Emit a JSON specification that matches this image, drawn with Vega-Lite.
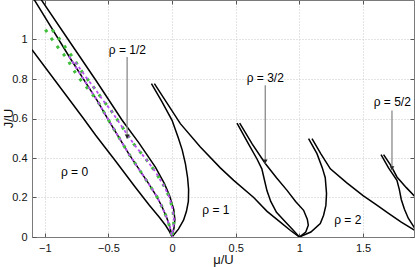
{
  "$schema": "https://vega.github.io/schema/vega-lite/v6.json",
  "width": 382,
  "height": 237,
  "autosize": {"type": "none"},
  "padding": {"left": 32, "top": 0, "right": 1, "bottom": 30},
  "background": "white",
  "config": {
    "view": {"stroke": "#7a7a7a", "strokeWidth": 1},
    "font": "Liberation Sans"
  },
  "datasets": {
    "curves": [
      {"kind":"k","curve":"c0","i":0,"mu":-1.1,"J":0.948},
      {"kind":"k","curve":"c0","i":1,"mu":-0.9,"J":0.776},
      {"kind":"k","curve":"c0","i":2,"mu":-0.7,"J":0.604},
      {"kind":"k","curve":"c0","i":3,"mu":-0.6,"J":0.515},
      {"kind":"k","curve":"c0","i":4,"mu":-0.45,"J":0.39},
      {"kind":"k","curve":"c0","i":5,"mu":-0.29,"J":0.253},
      {"kind":"k","curve":"c0","i":6,"mu":-0.18,"J":0.162},
      {"kind":"k","curve":"c0","i":7,"mu":-0.1,"J":0.1},
      {"kind":"k","curve":"c0","i":8,"mu":-0.05,"J":0.058},
      {"kind":"k","curve":"c0","i":9,"mu":-0.02,"J":0.027},
      {"kind":"k","curve":"c0","i":10,"mu":0,"J":0},

      {"kind":"k","curve":"c1","i":0,"mu":-1.1,"J":1.22},
      {"kind":"k","curve":"c1","i":1,"mu":-0.8,"J":0.905},
      {"kind":"k","curve":"c1","i":2,"mu":-0.589,"J":0.692},
      {"kind":"k","curve":"c1","i":3,"mu":-0.498,"J":0.591},
      {"kind":"k","curve":"c1","i":4,"mu":-0.341,"J":0.422},
      {"kind":"k","curve":"c1","i":5,"mu":-0.184,"J":0.27},
      {"kind":"k","curve":"c1","i":6,"mu":-0.12,"J":0.205},
      {"kind":"k","curve":"c1","i":7,"mu":-0.078,"J":0.152},
      {"kind":"k","curve":"c1","i":8,"mu":-0.04,"J":0.095},
      {"kind":"k","curve":"c1","i":9,"mu":-0.015,"J":0.045},
      {"kind":"k","curve":"c1","i":10,"mu":0,"J":0},

      {"kind":"k","curve":"c2","i":0,"mu":-1.05,"J":1.223},
      {"kind":"k","curve":"c2","i":1,"mu":-0.8,"J":0.985},
      {"kind":"k","curve":"c2","i":2,"mu":-0.6,"J":0.795},
      {"kind":"k","curve":"c2","i":3,"mu":-0.392,"J":0.591},
      {"kind":"k","curve":"c2","i":4,"mu":-0.262,"J":0.478},
      {"kind":"k","curve":"c2","i":5,"mu":-0.131,"J":0.354},
      {"kind":"k","curve":"c2","i":6,"mu":-0.06,"J":0.27},
      {"kind":"k","curve":"c2","i":7,"mu":-0.02,"J":0.21},
      {"kind":"k","curve":"c2","i":8,"mu":0.013,"J":0.14},
      {"kind":"k","curve":"c2","i":9,"mu":0.022,"J":0.09},
      {"kind":"k","curve":"c2","i":10,"mu":0.015,"J":0.045},
      {"kind":"k","curve":"c2","i":11,"mu":0,"J":0},

      {"kind":"k","curve":"a1","i":0,"mu":-0.162,"J":0.777},
      {"kind":"k","curve":"a1","i":1,"mu":-0.08,"J":0.685},
      {"kind":"k","curve":"a1","i":2,"mu":0,"J":0.591},
      {"kind":"k","curve":"a1","i":3,"mu":0.05,"J":0.5},
      {"kind":"k","curve":"a1","i":4,"mu":0.08,"J":0.44},
      {"kind":"k","curve":"a1","i":5,"mu":0.105,"J":0.37},
      {"kind":"k","curve":"a1","i":6,"mu":0.122,"J":0.3},
      {"kind":"k","curve":"a1","i":7,"mu":0.13,"J":0.24},
      {"kind":"k","curve":"a1","i":8,"mu":0.128,"J":0.18},
      {"kind":"k","curve":"a1","i":9,"mu":0.113,"J":0.13},
      {"kind":"k","curve":"a1","i":10,"mu":0.09,"J":0.085},
      {"kind":"k","curve":"a1","i":11,"mu":0.05,"J":0.04},
      {"kind":"k","curve":"a1","i":12,"mu":0,"J":0},

      {"kind":"k","curve":"b1","i":0,"mu":-0.139,"J":0.777},
      {"kind":"k","curve":"b1","i":1,"mu":0.065,"J":0.574},
      {"kind":"k","curve":"b1","i":2,"mu":0.222,"J":0.456},
      {"kind":"k","curve":"b1","i":3,"mu":0.379,"J":0.35},
      {"kind":"k","curve":"b1","i":4,"mu":0.484,"J":0.287},
      {"kind":"k","curve":"b1","i":5,"mu":0.641,"J":0.2},
      {"kind":"k","curve":"b1","i":6,"mu":0.746,"J":0.13},
      {"kind":"k","curve":"b1","i":7,"mu":0.85,"J":0.075},
      {"kind":"k","curve":"b1","i":8,"mu":0.93,"J":0.033},
      {"kind":"k","curve":"b1","i":9,"mu":1,"J":0},

      {"kind":"k","curve":"a32","i":0,"mu":0.51,"J":0.577},
      {"kind":"k","curve":"a32","i":1,"mu":0.6,"J":0.472},
      {"kind":"k","curve":"a32","i":2,"mu":0.667,"J":0.395},
      {"kind":"k","curve":"a32","i":3,"mu":0.705,"J":0.345},
      {"kind":"k","curve":"a32","i":4,"mu":0.725,"J":0.29},
      {"kind":"k","curve":"a32","i":5,"mu":0.745,"J":0.235},
      {"kind":"k","curve":"a32","i":6,"mu":0.775,"J":0.18},
      {"kind":"k","curve":"a32","i":7,"mu":0.82,"J":0.125},
      {"kind":"k","curve":"a32","i":8,"mu":0.9,"J":0.07},
      {"kind":"k","curve":"a32","i":9,"mu":0.95,"J":0.035},
      {"kind":"k","curve":"a32","i":10,"mu":1,"J":0},

      {"kind":"k","curve":"b32","i":0,"mu":0.531,"J":0.577},
      {"kind":"k","curve":"b32","i":1,"mu":0.63,"J":0.47},
      {"kind":"k","curve":"b32","i":2,"mu":0.732,"J":0.372},
      {"kind":"k","curve":"b32","i":3,"mu":0.82,"J":0.3},
      {"kind":"k","curve":"b32","i":4,"mu":0.903,"J":0.236},
      {"kind":"k","curve":"b32","i":5,"mu":0.97,"J":0.18},
      {"kind":"k","curve":"b32","i":6,"mu":1.033,"J":0.135},
      {"kind":"k","curve":"b32","i":7,"mu":1.062,"J":0.09},
      {"kind":"k","curve":"b32","i":8,"mu":1.07,"J":0.06},
      {"kind":"k","curve":"b32","i":9,"mu":1.05,"J":0.025},
      {"kind":"k","curve":"b32","i":10,"mu":1,"J":0},

      {"kind":"k","curve":"a2","i":0,"mu":1.072,"J":0.498},
      {"kind":"k","curve":"a2","i":1,"mu":1.138,"J":0.422},
      {"kind":"k","curve":"a2","i":2,"mu":1.18,"J":0.35},
      {"kind":"k","curve":"a2","i":3,"mu":1.203,"J":0.3},
      {"kind":"k","curve":"a2","i":4,"mu":1.213,"J":0.22},
      {"kind":"k","curve":"a2","i":5,"mu":1.208,"J":0.16},
      {"kind":"k","curve":"a2","i":6,"mu":1.19,"J":0.11},
      {"kind":"k","curve":"a2","i":7,"mu":1.164,"J":0.068},
      {"kind":"k","curve":"a2","i":8,"mu":1.09,"J":0.025},
      {"kind":"k","curve":"a2","i":9,"mu":1,"J":0},

      {"kind":"k","curve":"b2","i":0,"mu":1.099,"J":0.498},
      {"kind":"k","curve":"b2","i":1,"mu":1.17,"J":0.42},
      {"kind":"k","curve":"b2","i":2,"mu":1.243,"J":0.345},
      {"kind":"k","curve":"b2","i":3,"mu":1.37,"J":0.275},
      {"kind":"k","curve":"b2","i":4,"mu":1.5,"J":0.21},
      {"kind":"k","curve":"b2","i":5,"mu":1.6,"J":0.165},
      {"kind":"k","curve":"b2","i":6,"mu":1.7,"J":0.12},
      {"kind":"k","curve":"b2","i":7,"mu":1.8,"J":0.075},
      {"kind":"k","curve":"b2","i":8,"mu":1.904,"J":0.034},
      {"kind":"k","curve":"b2","i":9,"mu":2,"J":0},

      {"kind":"k","curve":"a52","i":0,"mu":1.641,"J":0.417},
      {"kind":"k","curve":"a52","i":1,"mu":1.7,"J":0.35},
      {"kind":"k","curve":"a52","i":2,"mu":1.766,"J":0.287},
      {"kind":"k","curve":"a52","i":3,"mu":1.785,"J":0.24},
      {"kind":"k","curve":"a52","i":4,"mu":1.8,"J":0.19},
      {"kind":"k","curve":"a52","i":5,"mu":1.825,"J":0.14},
      {"kind":"k","curve":"a52","i":6,"mu":1.855,"J":0.095},
      {"kind":"k","curve":"a52","i":7,"mu":1.91,"J":0.04},
      {"kind":"k","curve":"a52","i":8,"mu":2,"J":0},

      {"kind":"k","curve":"b52","i":0,"mu":1.661,"J":0.417},
      {"kind":"k","curve":"b52","i":1,"mu":1.72,"J":0.36},
      {"kind":"k","curve":"b52","i":2,"mu":1.766,"J":0.304},
      {"kind":"k","curve":"b52","i":3,"mu":1.84,"J":0.25},
      {"kind":"k","curve":"b52","i":4,"mu":1.91,"J":0.203},
      {"kind":"k","curve":"b52","i":5,"mu":2,"J":0.15},

      {"kind":"g","curve":"gL","i":0,"mu":-0.995,"J":1.05},
      {"kind":"g","curve":"gL","i":1,"mu":-0.942,"J":1.0},
      {"kind":"g","curve":"gL","i":2,"mu":-0.882,"J":0.948},
      {"kind":"g","curve":"gL","i":3,"mu":-0.824,"J":0.903},
      {"kind":"g","curve":"gL","i":4,"mu":-0.777,"J":0.848},
      {"kind":"g","curve":"gL","i":5,"mu":-0.72,"J":0.797},
      {"kind":"g","curve":"gL","i":6,"mu":-0.66,"J":0.75},
      {"kind":"g","curve":"gL","i":7,"mu":-0.589,"J":0.692},
      {"kind":"g","curve":"gL","i":8,"mu":-0.498,"J":0.591},
      {"kind":"g","curve":"gL","i":9,"mu":-0.341,"J":0.422},
      {"kind":"g","curve":"gL","i":10,"mu":-0.184,"J":0.27},
      {"kind":"g","curve":"gL","i":11,"mu":-0.12,"J":0.205},
      {"kind":"g","curve":"gL","i":12,"mu":-0.078,"J":0.152},
      {"kind":"g","curve":"gL","i":13,"mu":-0.04,"J":0.095},
      {"kind":"g","curve":"gL","i":14,"mu":-0.015,"J":0.045},
      {"kind":"g","curve":"gL","i":15,"mu":0,"J":0},

      {"kind":"g","curve":"gR","i":0,"mu":-0.942,"J":1.05},
      {"kind":"g","curve":"gR","i":1,"mu":-0.882,"J":1.0},
      {"kind":"g","curve":"gR","i":2,"mu":-0.824,"J":0.948},
      {"kind":"g","curve":"gR","i":3,"mu":-0.772,"J":0.903},
      {"kind":"g","curve":"gR","i":4,"mu":-0.72,"J":0.848},
      {"kind":"g","curve":"gR","i":5,"mu":-0.662,"J":0.797},
      {"kind":"g","curve":"gR","i":6,"mu":-0.6,"J":0.745},
      {"kind":"g","curve":"gR","i":7,"mu":-0.54,"J":0.69},
      {"kind":"g","curve":"gR","i":8,"mu":-0.484,"J":0.645},
      {"kind":"g","curve":"gR","i":9,"mu":-0.4,"J":0.565},
      {"kind":"g","curve":"gR","i":10,"mu":-0.3,"J":0.47},
      {"kind":"g","curve":"gR","i":11,"mu":-0.2,"J":0.39},
      {"kind":"g","curve":"gR","i":12,"mu":-0.131,"J":0.33},
      {"kind":"g","curve":"gR","i":13,"mu":-0.06,"J":0.255},
      {"kind":"g","curve":"gR","i":14,"mu":-0.02,"J":0.2},
      {"kind":"g","curve":"gR","i":15,"mu":0.005,"J":0.14},
      {"kind":"g","curve":"gR","i":16,"mu":0.015,"J":0.09},
      {"kind":"g","curve":"gR","i":17,"mu":0.01,"J":0.045},
      {"kind":"g","curve":"gR","i":18,"mu":0,"J":0},

      {"kind":"p","curve":"pL","i":0,"mu":-0.81,"J":0.915},
      {"kind":"p","curve":"pL","i":1,"mu":-0.589,"J":0.692},
      {"kind":"p","curve":"pL","i":2,"mu":-0.498,"J":0.591},
      {"kind":"p","curve":"pL","i":3,"mu":-0.341,"J":0.422},
      {"kind":"p","curve":"pL","i":4,"mu":-0.184,"J":0.27},
      {"kind":"p","curve":"pL","i":5,"mu":-0.12,"J":0.205},
      {"kind":"p","curve":"pL","i":6,"mu":-0.078,"J":0.152},
      {"kind":"p","curve":"pL","i":7,"mu":-0.04,"J":0.095},
      {"kind":"p","curve":"pL","i":8,"mu":-0.015,"J":0.045},
      {"kind":"p","curve":"pL","i":9,"mu":0,"J":0},

      {"kind":"p","curve":"pR","i":0,"mu":-0.76,"J":0.886},
      {"kind":"p","curve":"pR","i":1,"mu":-0.662,"J":0.797},
      {"kind":"p","curve":"pR","i":2,"mu":-0.6,"J":0.745},
      {"kind":"p","curve":"pR","i":3,"mu":-0.54,"J":0.69},
      {"kind":"p","curve":"pR","i":4,"mu":-0.484,"J":0.645},
      {"kind":"p","curve":"pR","i":5,"mu":-0.4,"J":0.565},
      {"kind":"p","curve":"pR","i":6,"mu":-0.3,"J":0.47},
      {"kind":"p","curve":"pR","i":7,"mu":-0.2,"J":0.39},
      {"kind":"p","curve":"pR","i":8,"mu":-0.131,"J":0.33},
      {"kind":"p","curve":"pR","i":9,"mu":-0.06,"J":0.255},
      {"kind":"p","curve":"pR","i":10,"mu":-0.02,"J":0.2},
      {"kind":"p","curve":"pR","i":11,"mu":0.005,"J":0.14},
      {"kind":"p","curve":"pR","i":12,"mu":0.015,"J":0.09},
      {"kind":"p","curve":"pR","i":13,"mu":0.01,"J":0.045},
      {"kind":"p","curve":"pR","i":14,"mu":0,"J":0}
    ],
    "labels": [
      {"text":"ρ = 0","mu":-0.766,"J":0.329},
      {"text":"ρ = 1","mu":0.344,"J":0.135},
      {"text":"ρ = 2","mu":1.38,"J":0.088},
      {"text":"ρ = 1/2","mu":-0.351,"J":0.945},
      {"text":"ρ = 3/2","mu":0.732,"J":0.803},
      {"text":"ρ = 5/2","mu":1.729,"J":0.682}
    ],
    "arrows": [
      {"mu":-0.353,"J":0.911,"J2":0.498},
      {"mu":0.732,"J":0.768,"J2":0.372},
      {"mu":1.727,"J":0.641,"J2":0.338}
    ]
  },
  "resolve": {"axis": {"x": "independent", "y": "independent"}},
  "layer": [
    {
      "data": {"name": "curves"},
      "transform": [{"filter": "datum.kind == 'k'"}],
      "mark": {"type": "line", "color": "black", "strokeWidth": 1.5, "clip": true},
      "encoding": {
        "x": {"field": "mu", "type": "quantitative",
              "scale": {"domain": [-1.1, 1.9], "nice": false, "zero": false},
              "axis": {"title": "μ/U", "values": [-1, -0.5, 0, 0.5, 1, 1.5], "format": "~g",
                       "grid": true, "gridColor": "#c8c8c8", "gridDash": [1, 2],
                       "domainColor": "#7a7a7a", "tickColor": "#555", "tickSize": -4,
                       "labelPadding": 9, "labelFontSize": 11, "labelColor": "#111",
                       "labelFont": "Liberation Sans", "labelFlush": false,
                       "titleFont": "Liberation Sans", "titleFontSize": 13, "titleFontWeight": "normal",
                       "titleColor": "#111", "titleBaseline": "alphabetic", "titleY": 26}},
        "y": {"field": "J", "type": "quantitative",
              "scale": {"domain": [0, 1.2], "nice": false},
              "axis": {"title": "J/U", "values": [0, 0.2, 0.4, 0.6, 0.8, 1], "format": "~g",
                       "grid": true, "gridColor": "#c8c8c8", "gridDash": [1, 2],
                       "domainColor": "#7a7a7a", "tickColor": "#555", "tickSize": -4,
                       "labelPadding": 9, "labelFontSize": 11, "labelColor": "#111",
                       "labelFont": "Liberation Sans", "labelFlush": false,
                       "titleFont": "Liberation Sans", "titleFontSize": 13, "titleFontWeight": "normal",
                       "titleColor": "#111", "titleBaseline": "alphabetic", "titleAngle": -90,
                       "titleX": -20, "titleY": 118, "titleAlign": "center"}},
        "detail": {"field": "curve"},
        "order": {"field": "i", "type": "quantitative"}
      }
    },
    {
      "data": {"name": "curves"},
      "transform": [{"filter": "datum.kind == 'g'"}],
      "mark": {"type": "line", "color": "#3fbf3a", "strokeWidth": 3, "strokeDash": [3, 7], "strokeCap": "butt", "clip": true},
      "encoding": {
        "x": {"field": "mu", "type": "quantitative", "axis": null},
        "y": {"field": "J", "type": "quantitative", "axis": null},
        "detail": {"field": "curve"},
        "order": {"field": "i", "type": "quantitative"}
      }
    },
    {
      "data": {"name": "curves"},
      "transform": [{"filter": "datum.kind == 'p'"}],
      "mark": {"type": "line", "color": "#b84ff0", "strokeWidth": 1.8, "strokeDash": [3, 3], "clip": true},
      "encoding": {
        "x": {"field": "mu", "type": "quantitative", "axis": null},
        "y": {"field": "J", "type": "quantitative", "axis": null},
        "detail": {"field": "curve"},
        "order": {"field": "i", "type": "quantitative"}
      }
    },
    {
      "data": {"name": "arrows"},
      "mark": {"type": "rule", "color": "#8a8a8a", "strokeWidth": 1.3},
      "encoding": {
        "x": {"field": "mu", "type": "quantitative", "axis": null},
        "y": {"field": "J", "type": "quantitative", "axis": null},
        "y2": {"field": "J2"}
      }
    },
    {
      "data": {"name": "arrows"},
      "mark": {"type": "point", "shape": "triangle-down", "filled": true, "size": 22, "color": "#222", "opacity": 1, "yOffset": -2},
      "encoding": {
        "x": {"field": "mu", "type": "quantitative", "axis": null},
        "y": {"field": "J2", "type": "quantitative", "axis": null}
      }
    },
    {
      "data": {"name": "labels"},
      "mark": {"type": "text", "font": "Liberation Sans", "fontSize": 12, "color": "#000", "align": "center", "baseline": "middle"},
      "encoding": {
        "x": {"field": "mu", "type": "quantitative", "axis": null},
        "y": {"field": "J", "type": "quantitative", "axis": null},
        "text": {"field": "text"}
      }
    },
    {
      "data": {"name": "arrows"},
      "mark": {"type": "point", "opacity": 0},
      "encoding": {
        "x": {"field": "mu", "type": "quantitative",
              "axis": {"orient": "top", "values": [-1, -0.5, 0, 0.5, 1, 1.5], "labels": false, "grid": false,
                       "domain": false, "tickColor": "#555", "tickSize": -4, "title": null}},
        "y": {"field": "J", "type": "quantitative",
              "axis": {"orient": "right", "values": [0, 0.2, 0.4, 0.6, 0.8, 1], "labels": false, "grid": false,
                       "domain": false, "tickColor": "#555", "tickSize": -4, "title": null}}
      }
    }
  ]
}
